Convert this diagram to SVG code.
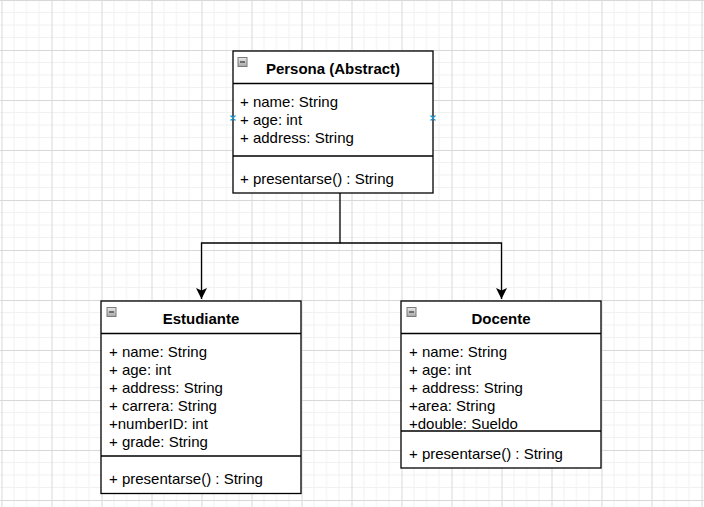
<svg xmlns="http://www.w3.org/2000/svg" width="704" height="507" viewBox="0 0 704 507">
<defs>
<pattern id="grid" x="1.5" y="0" width="50" height="50" patternUnits="userSpaceOnUse">
<rect width="50" height="50" fill="#ffffff"/>
<path d="M12.5 0V50M25 0V50M37.5 0V50M0 12.5H50M0 25H50M0 37.5H50" stroke="#f1f1f1" stroke-width="1" fill="none"/>
<path d="M0.5 0V50M0 0.5H50" stroke="#d8d8d8" stroke-width="1" fill="none"/>
</pattern>
<linearGradient id="ig" x1="0" y1="0" x2="0" y2="1">
<stop offset="0" stop-color="#e8e8e8"/>
<stop offset="1" stop-color="#a8a8a8"/>
</linearGradient>
<marker id="arr" markerWidth="12" markerHeight="12" refX="11" refY="5.5" orient="auto" markerUnits="userSpaceOnUse">
<path d="M0 0L11 5.5L0 11L2.5 5.5Z" fill="#000"/>
</marker>
<g id="icon">
<rect x="0.5" y="0.5" width="9" height="9" fill="url(#ig)" stroke="#7a7a7a" stroke-width="1"/>
<path d="M2.5 5H7.5" stroke="#333" stroke-width="1.2"/>
</g>
</defs>
<style>
.box{fill:#fff;stroke:#000;stroke-width:1.3}
.sep{stroke:#000;stroke-width:1.3;fill:none}
.t{font-family:"Liberation Sans",Arial,sans-serif;font-size:15px;fill:#000}
.h{font-family:"Liberation Sans",Arial,sans-serif;font-size:15px;font-weight:bold;fill:#000;text-anchor:middle}
.con{stroke:#000;stroke-width:1.3;fill:none}
.x{stroke:#1a9fe6;stroke-width:1.3}
</style>
<rect width="704" height="507" fill="url(#grid)"/>

<g id="connectors">
<path class="con" d="M340 193V243H201.5V299" marker-end="url(#arr)"/>
<path class="con" d="M340 243H501.5V299" marker-end="url(#arr)"/>
</g>

<g id="persona">
<rect class="box" x="233" y="51" width="200" height="142"/>
<path class="sep" d="M233 83.5H433M233 156H433"/>
<use href="#icon" x="237.5" y="57"/>
<text class="h" x="333" y="74">Persona (Abstract)</text>
<text class="t" x="240" y="107">+ name: String</text>
<text class="t" x="240" y="125">+ age: int</text>
<text class="t" x="240" y="143">+ address: String</text>
<text class="t" x="240" y="184">+ presentarse() : String</text>
<path class="x" d="M230.5 115.5L235.5 120.5M235.5 115.5L230.5 120.5M430.5 115.5L435.5 120.5M435.5 115.5L430.5 120.5"/>
</g>

<g id="estudiante">
<rect class="box" x="101" y="301" width="200" height="192.5"/>
<path class="sep" d="M101 333.5H301M101 456H301"/>
<use href="#icon" x="106.5" y="307"/>
<text class="h" x="201" y="324">Estudiante</text>
<text class="t" x="109" y="357">+ name: String</text>
<text class="t" x="109" y="375">+ age: int</text>
<text class="t" x="109" y="393">+ address: String</text>
<text class="t" x="109" y="411">+ carrera: String</text>
<text class="t" x="109" y="429">+numberID: int</text>
<text class="t" x="109" y="447">+ grade: String</text>
<text class="t" x="109" y="484">+ presentarse() : String</text>
</g>

<g id="docente">
<rect class="box" x="401" y="301" width="200" height="167"/>
<path class="sep" d="M401 333.5H601M401 431H601"/>
<use href="#icon" x="406.5" y="307"/>
<text class="h" x="501" y="324">Docente</text>
<text class="t" x="409" y="357">+ name: String</text>
<text class="t" x="409" y="375">+ age: int</text>
<text class="t" x="409" y="393">+ address: String</text>
<text class="t" x="409" y="411">+area: String</text>
<text class="t" x="409" y="429">+double: Sueldo</text>
<text class="t" x="409" y="459">+ presentarse() : String</text>
</g>
</svg>
